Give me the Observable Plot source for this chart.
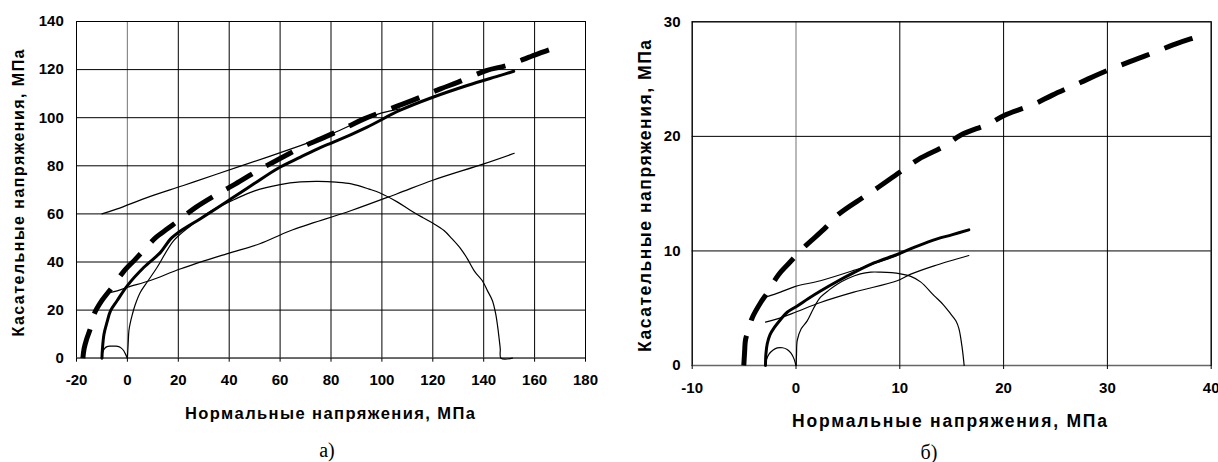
<!DOCTYPE html>
<html><head><meta charset="utf-8">
<script src="https://cdn.jsdelivr.net/npm/d3@7"></script>
<script src="https://cdn.jsdelivr.net/npm/@observablehq/plot@0.6"></script>
<style>
html,body{margin:0;padding:0;background:#fff}
body{width:1218px;height:462px;position:relative;overflow:hidden;font-family:"Liberation Sans",Arial,sans-serif}
.panel{position:absolute;top:0}
.t{position:absolute;white-space:nowrap;font-weight:bold;color:#000;transform:translate(-50%,-50%)}
.ty{transform:translate(-50%,-50%) rotate(-90deg)}
.cap{position:absolute;white-space:nowrap;font-family:"Liberation Serif","Times New Roman",serif;font-size:20px;color:#000;transform:translate(-50%,-50%)}
</style></head><body>
<div id="pa" class="panel" style="left:0"></div>
<div id="pb" class="panel" style="left:609px"></div>
<script>
// ---------- chart а) ----------
const aXTicks = [-20, 0, 20, 40, 60, 80, 100, 120, 140, 160, 180];
const aYTicks = [0, 20, 40, 60, 80, 100, 120, 140];
// thick dashed envelope
const aDashX = [-17.5,-17,-16,-14.5,-13,-10,-6,-1.5,3,7,11,16,21,27,36.6,42.5,52,60,69,76,86,93,105,112,123,130,141,149,160,167,170];
const aDashY = [0,4,8,12.5,18.5,24,29.5,36,41,45.5,50,54,58,62.8,69,72.5,78.5,83,88,91.2,96,99.5,104.4,107.2,112,114.8,119.6,121.7,126,128.7,129.3];
// thick solid envelope
const aSolidX = [-10,-9.8,-9.2,-8,-6.6,-4,0,6.5,13,17,21,28.7,41.8,50,58.9,68,76,81,94,107,120,133.5,146.6,151.8];
const aSolidY = [0,4,10,15,19.8,24,30.2,37.8,44,49.6,53,58,67,72.7,78.8,83.6,87.7,89.8,96,103,108.5,113.4,117.6,119.3];
// thin upper line
const aUpperX = [-10,-4,9,22,35,55,68,76,81,94,100,107];
const aUpperY = [60,62.1,67.3,71.8,76.5,83.6,88.4,91.5,93.6,99.8,102,103.7];
// thin lower line
const aLowerX = [-8,-4,0,9,21,39,52,64,88,106,120,140,152];
const aLowerY = [27,28,29.5,32.3,37.2,43.4,47.6,53,61.4,68.4,74,80.8,85.2];
// large Mohr circle
const aBigX = [0,0.3,0.6,1.2,1.9,3,5.1,8,11.7,18.2,25,33,42,50,60,68,75,82,88,95,99.5,106,111.3,116,120.4,124.4,127.6,131,133.5,136.5,139.4,141.5,143.4,144.7,145.5,146,146.5,146.8,151.3];
const aBigY = [0,6,11.5,15,18,22,27.4,32,37.8,48.9,55.2,61.3,66,69.6,72.2,73.3,73.5,73.2,72.5,70.3,68.6,65,61.4,58.5,55.9,53.1,49.6,45.5,41.5,36,32.3,28,24,18.5,13,8.7,4,0,0];
// small Mohr circle
const aSmallX = [-10,-9.7,-9,-8,-6.6,-4.5,-3.4,-2.4,-1.5,-0.8,0];
const aSmallY = [0,2.5,4,4.8,5,5,4.8,4.2,3.2,1.8,0];

// ---------- chart б) ----------
const bXTicks = [-10, 0, 10, 20, 30, 40];
const bYTicks = [0, 10, 20, 30];
const bDashX = [-5.03,-4.95,-4.87,-4.6,-4.2,-3.4,-2.8,-1.7,-0.7,0.75,2.7,4.1,6.5,8,10.2,11.8,14.4,15.85,18.6,20,22.9,24.7,27.4,29.2,32.1,33.7,36.6,38,39.1];
const bDashY = [0,1.2,2.2,3.1,4.2,5.5,6.3,7.9,8.9,10.3,11.9,13.2,14.7,15.6,17,18,19.2,20.1,21.1,21.8,22.8,23.6,24.7,25.45,26.5,27.05,28.07,28.5,28.8];
const bSolidX = [-2.94,-2.9,-2.77,-2.5,-2.1,-1.5,-0.85,0.12,1.2,2.36,4,5.57,7.5,9.75,11.5,13.6,15,16.65];
const bSolidY = [0,1,1.9,2.7,3.3,4,4.65,5.2,5.85,6.5,7.35,8.1,8.95,9.7,10.35,11.05,11.4,11.84];
const bUpperX = [-2.94,-1.5,-0.05,2.36,5.57,9.75,10.5];
const bUpperY = [5.96,6.4,6.9,7.4,8.3,9.6,9.95];
const bLowerX = [-2.94,-1.8,-0.05,2.36,5.57,9.75,11,13.3,16.65];
const bLowerY = [3.78,4.07,4.65,5.5,6.4,7.4,7.95,8.7,9.6];
const bBigX = [0.02,0.05,0.12,0.5,1.08,1.7,2.36,3.2,3.97,5,6.2,7.2,8.15,9.2,10.07,11,12,13.3,14.2,14.9,15.4,15.7,16,16.2];
const bBigY = [0,1,2.2,3.2,3.9,5,5.96,6.6,7.1,7.6,8,8.15,8.15,8.1,8,7.8,7.3,6.1,5.3,4.5,3.9,3.2,1.6,0];
const bSmallX = [-2.94,-2.85,-2.6,-2.2,-1.8,-1.3,-0.85,-0.5,-0.2,0];
const bSmallY = [0,0.5,1,1.35,1.54,1.55,1.4,1.1,0.6,0];

// ---------- text ----------
const xTitle = "Нормальные напряжения, МПа";
const yTitle = "Касательные напряжения, МПа";
const capA = "а)";
const capB = "б)";

const pts = (xs, ys) => xs.map((x, i) => ({x, y: ys[i]}));

function panel(o) {
  const thin = {x: "x", y: "y", stroke: "#000", strokeWidth: 1.2, curve: "catmull-rom"};
  return Plot.plot({
    width: o.width, height: o.height,
    marginLeft: o.ml, marginRight: o.mr, marginTop: o.mt, marginBottom: o.mb,
    style: {fontFamily: '"Liberation Sans", Arial, sans-serif', background: "#fff", color: "#000", overflow: "visible"},
    x: {domain: o.xDomain, label: null},
    y: {domain: o.yDomain, label: null},
    marks: [
      Plot.gridX(o.xTicks.filter(d => d !== 0), {stroke: "#000", strokeOpacity: 1, strokeWidth: 1}),
      Plot.gridX([0], {stroke: "#8a8a8a", strokeOpacity: 1, strokeWidth: 1.2}),
      Plot.gridY(o.yTicks, {stroke: "#000", strokeOpacity: 1, strokeWidth: 1}),
      Plot.frame({stroke: "#000", strokeWidth: 1}),
      Plot.ruleY([0], {stroke: "#666", strokeWidth: 1.6}),
      Plot.axisX(o.xTicks, {tickSize: 4, tickPadding: 12.5, label: null, fontSize: 15, fontWeight: "bold", stroke: "#000", tickFormat: d => String(d)}),
      Plot.axisY(o.yTicks, {tickSize: 0, tickPadding: o.yPad, label: null, fontSize: 15, fontWeight: "bold", tickFormat: d => String(d)}),
      Plot.line(pts(o.big[0], o.big[1]), thin),
      Plot.line(pts(o.small[0], o.small[1]), thin),
      Plot.line(pts(o.lower[0], o.lower[1]), thin),
      Plot.line(pts(o.upper[0], o.upper[1]), thin),
      Plot.line(pts(o.solid[0], o.solid[1]), {x: "x", y: "y", stroke: "#000", strokeWidth: 3, curve: "catmull-rom"}),
      Plot.line(pts(o.dash[0], o.dash[1]), {x: "x", y: "y", stroke: "#000", strokeWidth: 5, strokeDasharray: "30,16", strokeLinecap: "butt", curve: "catmull-rom"})
    ]
  });
}

document.getElementById("pa").append(panel({
  width: 609, height: 400, ml: 76, mr: 24, mt: 21, mb: 42.3, yPad: 12.7,
  xDomain: [-20, 180], yDomain: [0, 140], xTicks: aXTicks, yTicks: aYTicks,
  dash: [aDashX, aDashY], solid: [aSolidX, aSolidY], upper: [aUpperX, aUpperY],
  lower: [aLowerX, aLowerY], big: [aBigX, aBigY], small: [aSmallX, aSmallY]
}));
document.getElementById("pb").append(panel({
  width: 609, height: 400, ml: 82.7, mr: 7.3, mt: 21.3, mb: 35, yPad: 11.7,
  xDomain: [-10, 40], yDomain: [0, 30], xTicks: bXTicks, yTicks: bYTicks,
  dash: [bDashX, bDashY], solid: [bSolidX, bSolidY], upper: [bUpperX, bUpperY],
  lower: [bLowerX, bLowerY], big: [bBigX, bBigY], small: [bSmallX, bSmallY]
}));

// titles fitted to the reference widths with letter spacing
const ctx = document.createElement("canvas").getContext("2d");
function addText(txt, cls, cx, cy, size, target) {
  const d = document.createElement("div");
  d.className = cls;
  d.textContent = txt;
  d.style.left = cx + "px";
  d.style.top = cy + "px";
  d.style.fontSize = size + "px";
  if (target) {
    ctx.font = `bold ${size}px "Liberation Sans", Arial, sans-serif`;
    const w = ctx.measureText(txt).width;
    const ls = Math.max(0, (target - w) / (txt.length - 1));
    d.style.letterSpacing = ls + "px";
    d.style.paddingLeft = ls + "px";
  }
  document.body.append(d);
}
addText(xTitle, "t", 330, 412.7, 16.5, 290);
addText(yTitle, "t ty", 19, 193, 16, 287);
addText(xTitle, "t", 949.5, 421, 17.5, 315);
addText(yTitle, "t ty", 644.5, 196, 17.5, 312);
addText(capA, "cap", 327, 450, 20);
addText(capB, "cap", 929, 452, 20);
</script>
</body></html>
